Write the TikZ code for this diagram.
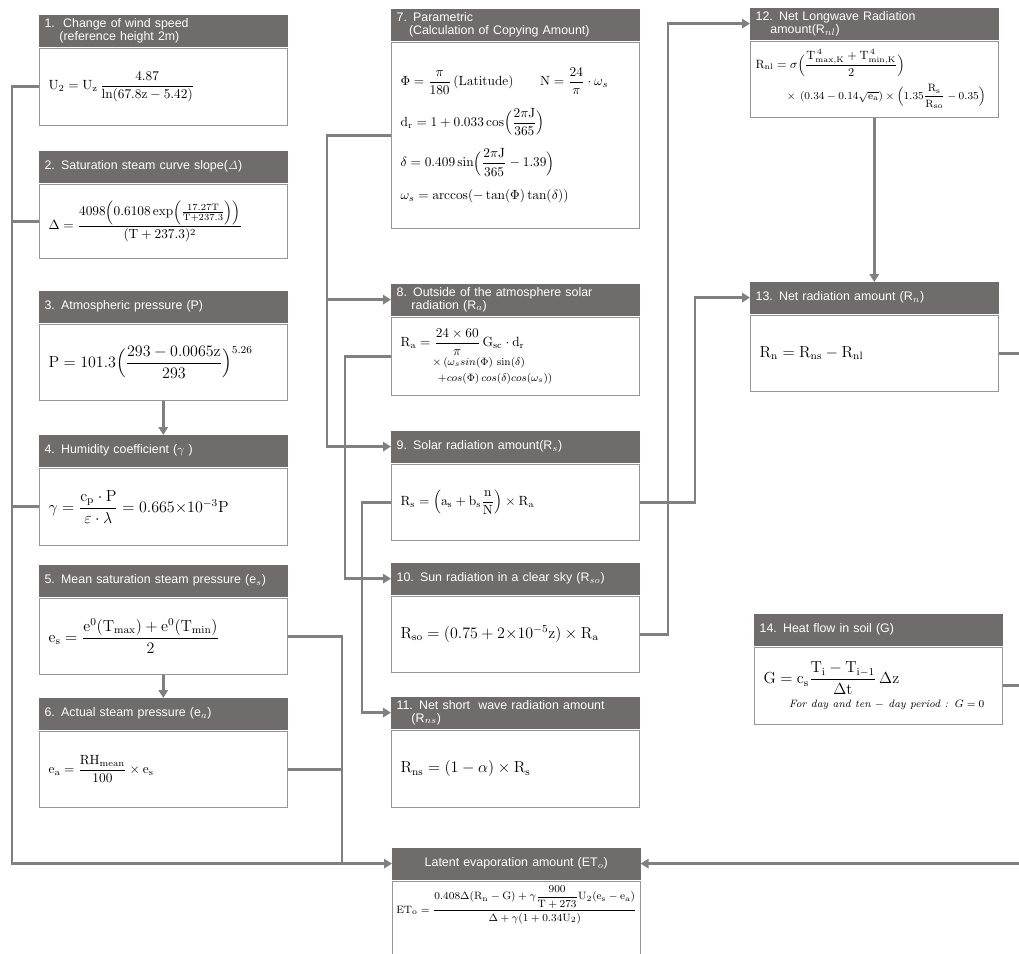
\documentclass[tikz,border=0pt]{standalone}
\usepackage{amsmath}
\usepackage{amssymb}
\usepackage[no-math]{fontspec}
\setsansfont{Liberation Sans}
\usepackage{tikz}
\usetikzlibrary{positioning,arrows.meta}

\definecolor{headgray}{RGB}{112,108,108}
\definecolor{linegray}{RGB}{128,128,128}
\definecolor{framegray}{RGB}{150,150,150}

\tikzset{
  head/.style={fill=headgray, draw=headgray, text=white, anchor=north west,
    font=\sffamily\fontsize{9.3}{10}\selectfont, align=left,
    text width=178pt, inner xsep=4pt, inner ysep=1pt, minimum height=23pt},
  body/.style={draw=framegray, line width=0.9pt, fill=white, align=left,
    text width=172pt, inner xsep=7pt, minimum height=#1},
  body/.default=57pt,
  link/.style={draw=linegray, line width=2.2pt},
  flow/.style={link, -{Triangle[length=6pt,width=7pt]}}
}

\begin{document}
\begin{tikzpicture}[x=0.75pt,y=-0.75pt]
\useasboundingbox (0,0) rectangle (1019,953);

% first column
\node[head] (h1) at (39,15) {1.\ \ Change of wind speed\\\hspace*{1.2em}(reference height 2m)};
\node[body=58pt, below=1pt of h1] (b1) {$\mathrm{U_2 = U_z\,\dfrac{4.87}{\ln(67.8z-5.42)}}$};

\node[head] (h2) at (39,151) {2. Saturation steam curve slope($\mathit{\Delta}$)};
\node[body=56pt, below=1pt of h2] (b2) {$\mathrm{\Delta = \dfrac{4098\Bigl(0.6108\exp\Bigl(\frac{17.27T}{T+237.3}\Bigr)\Bigr)}{(T+237.3)^2}}$};

\node[head] (h3) at (39,291) {3. Atmospheric pressure (P)};
\node[body, below=1pt of h3] (b3) {\large$\mathrm{P = 101.3\Bigl(\dfrac{293-0.0065z}{293}\Bigr)^{5.26}}$};

\node[head] (h4) at (39,435) {4. Humidity coefficient ($\gamma$\ )};
\node[body=58pt, below=1pt of h4] (b4) {\large$\mathrm{\gamma = \dfrac{c_p\cdot P}{\varepsilon\cdot\lambda} = 0.665{\times}10^{-3}P}$};

\node[head] (h5) at (39,565) {5. Mean saturation steam pressure (e$_s$)};
\node[body, below=1pt of h5] (b5) {\large$\mathrm{e_s = \dfrac{e^0(T_{max})+e^0(T_{min})}{2}}$};

\node[head] (h6) at (39,698) {6. Actual steam pressure (e$_a$)};
\node[body, below=1pt of h6] (b6) {$\mathrm{e_a = \dfrac{RH_{mean}}{100}\times e_s}$};

% second column
\node[head] (h7) at (391,9) {7. Parametric\\\hspace*{1em}(Calculation of Copying Amount)};
\node[body=140pt, below=1pt of h7] (b7) {%
  $\Phi = \dfrac{\pi}{180}\,(\mathrm{Latitude})\qquad \mathrm{N} = \dfrac{24}{\pi}\cdot\omega_s$\\[9pt]
  $\mathrm{d_r = 1+0.033\cos\Bigl(\dfrac{2\pi J}{365}\Bigr)}$\\[9pt]
  $\delta = 0.409\sin\Bigl(\dfrac{2\pi\mathrm{J}}{365}-1.39\Bigr)$\\[9pt]
  $\omega_s = \arccos(-\tan(\Phi)\tan(\delta))$};

\node[head] (h8) at (391,284) {8. Outside of the atmosphere solar\\\hspace*{1.2em}radiation (R$_a$)};
\node[body=59pt, below=1pt of h8] (b8) {%
  $\mathrm{R_a = \dfrac{24\times60}{\pi}\,G_{sc}\cdot d_r}$\\
  \hspace*{2.4em}{\footnotesize$\times\,(\omega_s sin(\Phi)\,\sin(\delta)$}\\
  \hspace*{2.8em}{\footnotesize$+cos(\Phi)\,cos(\delta)cos(\omega_s))$}};

\node[head] (h9) at (391,431) {9. Solar radiation amount(R$_s$)};
\node[body, below=1pt of h9] (b9) {$\mathrm{R_s = \Bigl(a_s + b_s\dfrac{n}{N}\Bigr)\times R_a}$};

\node[head] (h10) at (391,563) {10. Sun radiation in a clear sky (R$_{so}$)};
\node[body, below=1pt of h10] (b10) {\large$\mathrm{R_{so} = (0.75+2{\times}10^{-5}z)\times R_a}$};

\node[head] (h11) at (391,697) {11. Net short\ \ wave radiation amount\\\hspace*{1.2em}(R$_{ns}$)};
\node[body=58pt, below=1pt of h11] (b11) {\large$\mathrm{R_{ns} = (1-\alpha)\times R_s}$};

% third column
\node[head] (h12) at (750,8) {12. Net Longwave Radiation\\\hspace*{1.2em}amount(R$_{nl}$)};
\node[body, inner xsep=4pt, text width=178pt, below=1pt of h12] (b12) {%
  \small$\mathrm{R_{nl} = \sigma\Bigl(\dfrac{T_{max,K}^{\,4} + T_{min,K}^{\,4}}{2}\Bigr)}$\\[5pt]
  \hspace*{2.6em}{\footnotesize$\times\ (0.34-0.14\sqrt{\mathrm{e_a}})\times\Bigl(1.35\dfrac{\mathrm{R_s}}{\mathrm{R_{so}}}-0.35\Bigr)$}};

\node[head] (h13) at (750,282) {13. Net radiation amount (R$_n$)};
\node[body, below=1pt of h13] (b13) {\large$\mathrm{R_n = R_{ns} - R_{nl}}$};

\node[head] (h14) at (754,614) {14. Heat flow in soil (G)};
\node[body=58pt, below=1pt of h14] (b14) {%
  \large$\mathrm{G = c_s\dfrac{T_i - T_{i-1}}{\Delta t}\,\Delta z}$\\[3pt]
  \hspace*{1.6em}{\footnotesize\itshape For day and ten $-$ day period : $G = 0$}};

% result
\node[head, align=center] (hL) at (392,848) {Latent evaporation amount (ET$_o$)};
\node[body=40pt, inner xsep=3pt, text width=180pt, below=1pt of hL] (bL) {%
  \footnotesize$\mathrm{ET_o = \dfrac{0.408\Delta(R_n-G)+\gamma\dfrac{900}{T+273}U_2(e_s-e_a)}{\Delta+\gamma(1+0.34U_2)}}$\\[20pt]\mbox{}};

% buses
\coordinate (lbus) at (12,0);
\coordinate (ebus) at (342,0);
\coordinate (pbus) at (327,0);
\coordinate (abus) at (345,0);
\coordinate (sbus) at (362,0);
\coordinate (obus) at (668,0);
\coordinate (nbus) at (695,0);
\coordinate (rbus) at (1022,0);

% connectors
\draw[flow] (b1.west) -| (lbus |- hL.west) -- (hL.west);
\draw[link] (b2.west) -- (b2.west -| lbus);
\draw[link] (b4.west) -- (b4.west -| lbus);
\draw[flow] (b3.south) -- (h4.north);
\draw[flow] (b5.south) -- (h6.north);
\draw[link] (b5.east) -| (ebus |- hL.west);
\draw[link] (b6.east) -- (b6.east -| ebus);

\draw[flow] (b7.west) -| (pbus |- h9.west) -- (h9.west);
\draw[flow] (pbus |- h8.west) -- (h8.west);
\draw[flow] (b8.west) -| (abus |- h10.west) -- (h10.west);
\draw[flow] (b9.west) -| (sbus |- h11.west) -- (h11.west);

\draw[flow] (b10.east) -| (obus |- h12.west) -- (h12.west);
\draw[flow] (b9.east) -| (nbus |- h13.west) -- (h13.west);
\draw[flow] (b12.south) -- (h13.north);

\draw[link] (b13.east) -| (rbus |- hL.east);
\draw[link] (b14.east) -- (b14.east -| rbus);
\draw[flow] (rbus |- hL.east) -- (hL.east);
\end{tikzpicture}
\end{document}
